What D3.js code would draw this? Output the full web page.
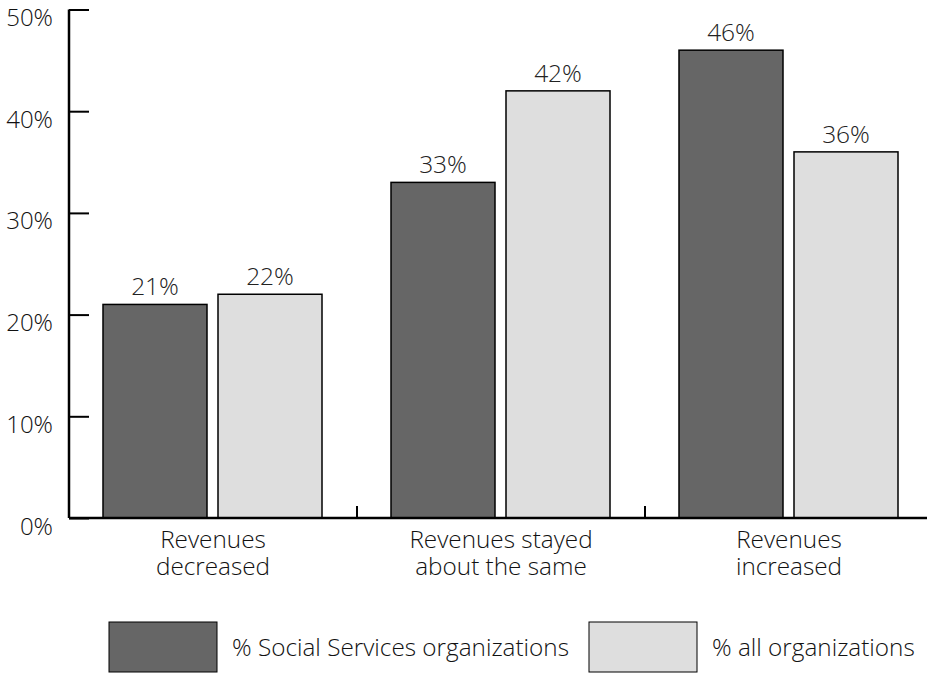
<!DOCTYPE html>
<html>
<head>
<meta charset="utf-8">
<script src="https://cdn.jsdelivr.net/npm/d3@7"></script>
<style>
  html, body { margin: 0; padding: 0; background: #fff; }
  svg { display: block; font-family: "Open Sans", sans-serif; font-weight: 300; }
</style>
</head>
<body>
<svg id="chart" width="927" height="673"></svg>
<script>
// Revenue change, Social Services organizations vs. all organizations
const categories = [["Revenues", "decreased"], ["Revenues stayed", "about the same"], ["Revenues", "increased"]];
const seriesNames = ["% Social Services organizations", "% all organizations"];
const socialServices = [21, 33, 46];
const allOrgs = [22, 42, 36];
const yTicks = [0, 10, 20, 30, 40, 50];
const colors = ["#666666", "#dedede"];

const svg = d3.select("#chart");
const W = 927;
const x0 = 69, x1 = 933, yTop = 9.5, yBot = 518;

const keys = categories.map((c, i) => i);
const x = d3.scaleBand().domain(keys).range([x0, x1]).paddingInner(0).paddingOuter(0);
const y = d3.scaleLinear().domain([0, 50]).range([yBot, yTop]);

const bandW = x.bandwidth();
const barW = 104, barOff = 34, barGap = 11;
const series = [socialServices, allOrgs];

// bars with value labels
series.forEach((vals, s) => {
  svg.append("g").selectAll("rect").data(vals).join("rect")
    .attr("x", (d, i) => x(i) + barOff + s * (barW + barGap))
    .attr("y", d => y(d))
    .attr("width", barW)
    .attr("height", d => y(0) - y(d))
    .attr("fill", colors[s])
    .attr("stroke", "#000")
    .attr("stroke-width", 1.5);
  svg.append("g").selectAll("text").data(vals).join("text")
    .attr("x", (d, i) => x(i) + barOff + s * (barW + barGap) + barW / 2)
    .attr("y", d => y(d) - 9)
    .attr("text-anchor", "middle")
    .attr("font-size", 24.5)
    .attr("fill", "#222")
    .text(d => d + "%");
});

// y axis: ticks point inward
const yAxis = d3.axisRight(y).tickValues(yTicks).tickSize(20).tickFormat("");
const gy = svg.append("g").attr("transform", `translate(${x0},0)`).call(yAxis);
gy.select(".domain").attr("stroke", "#000").attr("stroke-width", 2.5)
  .attr("d", `M0,${yTop}V${yBot}`);
gy.selectAll(".tick line").attr("stroke", "#000").attr("stroke-width", 2);
svg.append("g").selectAll("text").data(yTicks).join("text")
  .attr("x", 53)
  .attr("y", d => y(d) + 16.5)
  .attr("text-anchor", "end")
  .attr("font-size", 24)
  .attr("fill", "#111")
  .text(d => d + "%");

// x axis with short category dividers
svg.append("line")
  .attr("x1", x0).attr("x2", W)
  .attr("y1", yBot).attr("y2", yBot)
  .attr("stroke", "#000").attr("stroke-width", 2.5);
svg.append("g").selectAll("line").data(keys.slice(1)).join("line")
  .attr("x1", d => x(d)).attr("x2", d => x(d))
  .attr("y1", yBot).attr("y2", yBot - 12)
  .attr("stroke", "#000").attr("stroke-width", 2);

// category labels, two lines each
const cat = svg.append("g").selectAll("text").data(categories).join("text")
  .attr("x", (d, i) => x(i) + bandW / 2)
  .attr("y", 548)
  .attr("text-anchor", "middle")
  .attr("font-size", 24.3)
  .attr("fill", "#111");
cat.selectAll("tspan").data(d => d).join("tspan")
  .attr("x", function () { return this.parentNode.getAttribute("x"); })
  .attr("dy", (d, i) => i === 0 ? 0 : 27)
  .text(d => d);

// legend
const legendX = [109, 589];
const leg = svg.append("g").selectAll("g").data(seriesNames).join("g")
  .attr("transform", (d, i) => `translate(${legendX[i]},622)`);
leg.append("rect")
  .attr("width", 108).attr("height", 50)
  .attr("fill", (d, i) => colors[i])
  .attr("stroke", "#000").attr("stroke-width", 1);
leg.append("text")
  .attr("x", 123).attr("y", 34)
  .attr("font-size", 24.3)
  .attr("fill", "#111")
  .text(d => d);
</script>
</body>
</html>
